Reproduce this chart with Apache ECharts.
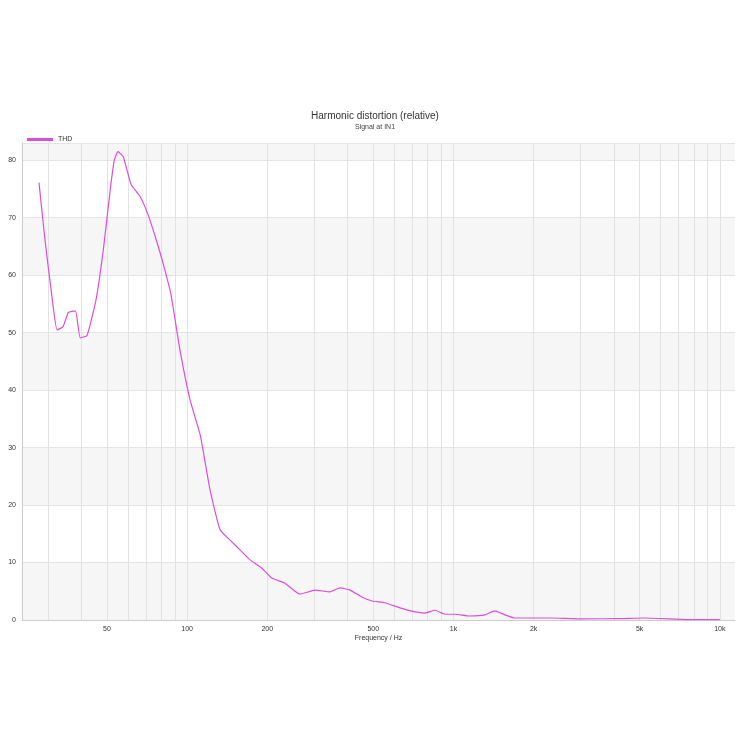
<!DOCTYPE html>
<html><head><meta charset="utf-8">
<script src="https://cdn.jsdelivr.net/npm/echarts@6/dist/echarts.min.js"></script>
<style>html,body{margin:0;background:#fff}#c{width:750px;height:750px}</style>
</head><body><div id="c"></div>
<script>
const freqs = [27.8, 29.3, 31.2, 32.5, 34.2, 35.8, 38.1, 39.7, 42.1, 45.5, 48.5, 51.5, 53.3, 55, 57.6, 61.6, 66.6, 71.4, 76.5, 81.3, 87, 94, 102.6, 112, 122, 133, 145, 158, 172, 191, 208, 233, 265, 302, 344, 375, 409, 453, 495, 553, 630, 718, 782, 852, 930, 1013, 1150, 1315, 1430, 1560, 1700, 2300, 2990, 4200, 5200, 6500, 7700, 10000]
const thd = [76.1, 66, 55.7, 50.5, 51, 53.5, 53.8, 49.1, 49.5, 55.7, 64.5, 75, 80, 81.5, 80.6, 75.8, 73.7, 70.5, 66.2, 62, 56.6, 47, 38.3, 32.2, 22.6, 15.7, 13.9, 12.2, 10.5, 9, 7.3, 6.4, 4.5, 5.2, 4.9, 5.6, 5.2, 4, 3.3, 3, 2.1, 1.4, 1.2, 1.7, 1.0, 1.0, 0.7, 0.9, 1.6, 0.9, 0.35, 0.35, 0.2, 0.25, 0.35, 0.2, 0.05, 0.05]
const gridFreqs = [30, 40, 50, 60, 70, 80, 90, 100, 200, 300, 400, 500, 600, 700, 800, 900, 1000, 2000, 3000, 4000, 5000, 6000, 7000, 8000, 9000, 10000]
const tickLabels = {50: '50', 100: '100', 200: '200', 500: '500', 1000: '1k', 2000: '2k', 5000: '5k', 10000: '10k'}

const chart = echarts.init(document.getElementById('c'))
chart.setOption({
  animation: false,
  title: {
    text: 'Harmonic distortion (relative)', subtext: 'Signal at IN1',
    left: 'center', top: 106, itemGap: 3,
    textStyle: {fontSize: 10, fontWeight: 'normal', color: '#333', fontFamily: 'Arial'},
    subtextStyle: {fontSize: 7, color: '#444', fontFamily: 'Arial'}
  },
  legend: {
    left: 22, top: 131, itemWidth: 26, itemHeight: 3, icon: 'rect',
    data: ['THD'],
    textStyle: {fontSize: 7, color: '#333'}
  },
  graphic: [{
    type: 'text', right: 20, top: 148,
    style: {text: 'KLIPPEL', fill: '#5a9bc8', font: 'bold 8px Arial'}
  }],
  grid: {left: 22, right: 15, top: 143, bottom: 130, containLabel: false, outerBoundsMode: 'none'},
  xAxis: {
    type: 'log', logBase: 10, min: 24, max: 11400,
    name: 'Frequency / Hz', nameLocation: 'middle', nameGap: 15,
    nameTextStyle: {fontSize: 7, color: '#333'},
    axisLine: {lineStyle: {color: '#ccc'}}, axisTick: {show: false},
    axisLabel: {show: false}, splitLine: {show: false}
  },
  yAxis: {
    type: 'value', min: 0, max: 83, interval: 10,
    name: 'Distortion / percent', nameLocation: 'middle', nameGap: 16,
    nameTextStyle: {fontSize: 7, color: '#333'},
    axisLine: {show: true, lineStyle: {color: '#ccc'}},
    axisTick: {show: false},
    axisLabel: {fontSize: 7, color: '#333', margin: 6, showMaxLabel: false},
    splitLine: {lineStyle: {color: '#e4e4e4'}},
    splitArea: {show: true, areaStyle: {color: ['#f6f6f6', '#ffffff']}}
  },
  series: [{
    name: 'grid', type: 'line', data: [], z: 1,
    markLine: {
      silent: true, symbol: 'none', animation: false,
      lineStyle: {color: '#e2e2e2', type: 'solid', width: 1},
      label: {
        position: 'start', distance: 6, fontSize: 7, color: '#333',
        formatter: p => tickLabels[p.value] || ''
      },
      data: gridFreqs.map(f => ({xAxis: f}))
    }
  }, {
    name: 'THD', type: 'line', showSymbol: false, smooth: 0.15, z: 5,
    data: freqs.map((f, i) => [f, thd[i]]),
    lineStyle: {color: '#dd4ddd', width: 1.2}, itemStyle: {color: '#dd4ddd'}
  }]
})
</script></body></html>
